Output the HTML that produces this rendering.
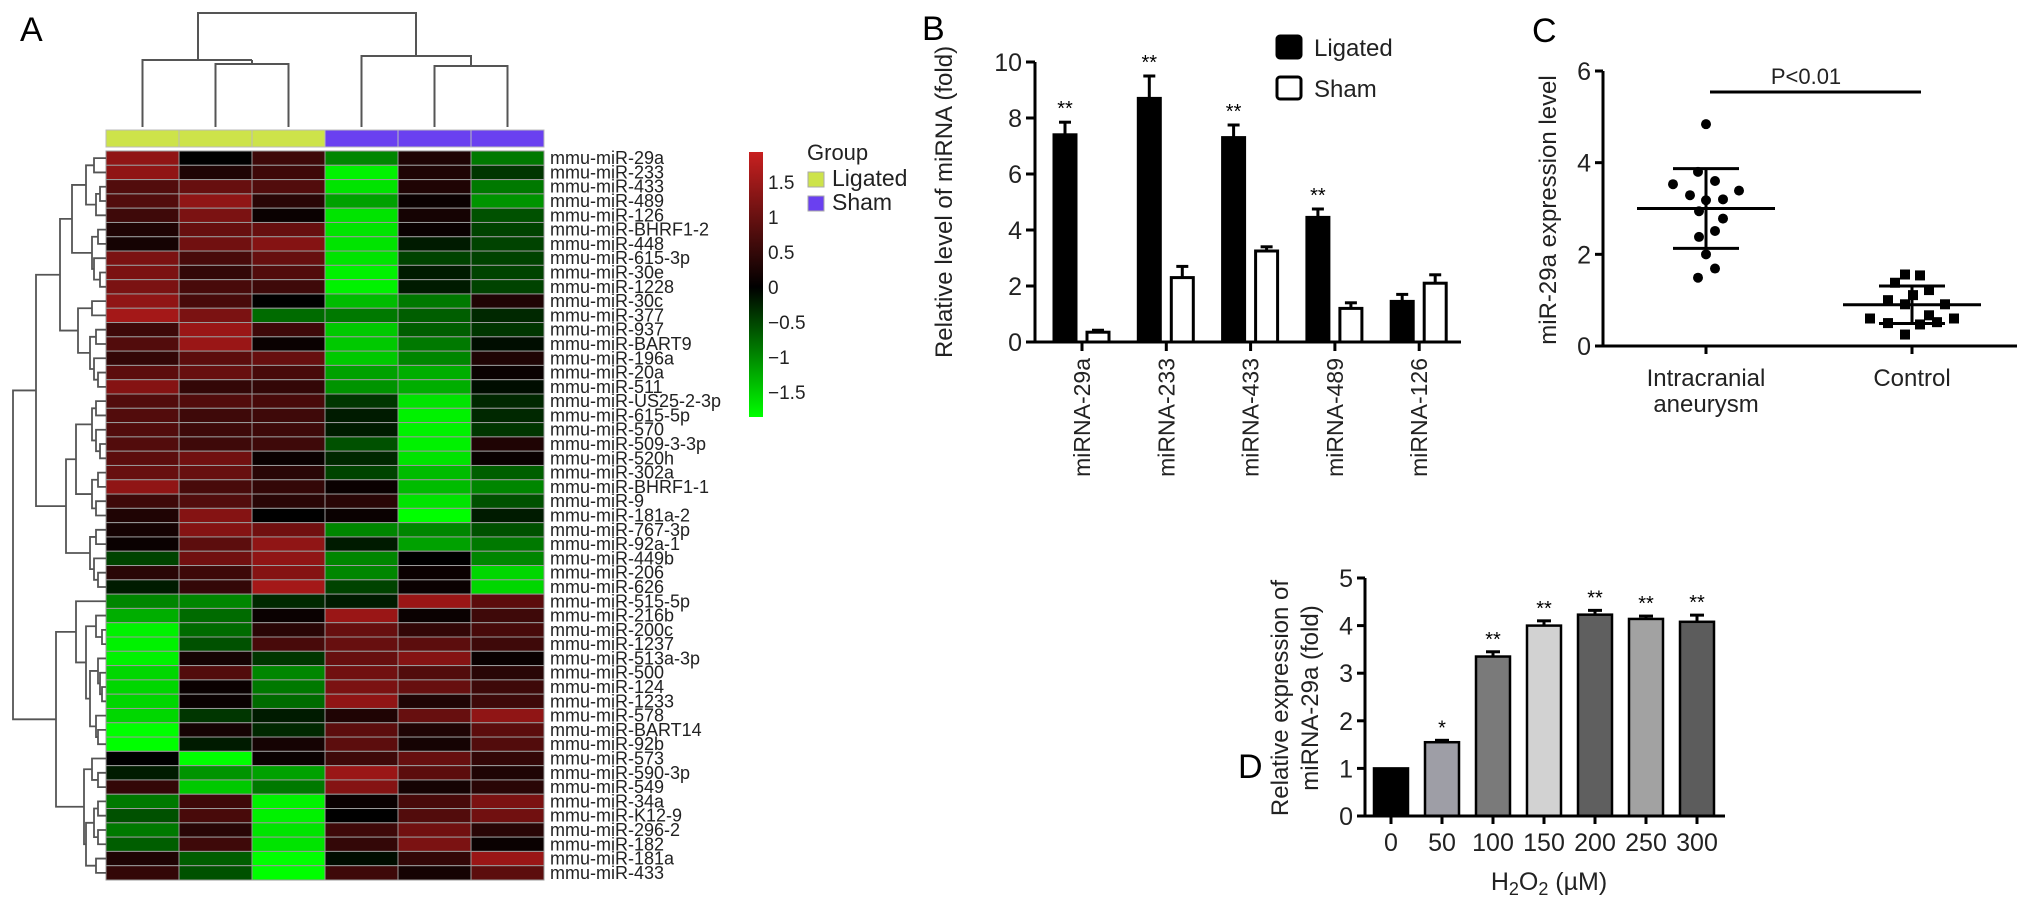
<!DOCTYPE html>
<html><head><meta charset="utf-8"><style>
html,body{margin:0;padding:0;background:#fff;}
svg{display:block;font-family:"Liberation Sans",Arial,sans-serif;}
</style></head><body>
<svg id="fig" width="2031" height="909" viewBox="0 0 2031 909" xmlns="http://www.w3.org/2000/svg">
<rect width="2031" height="909" fill="#fff"/>
<g id="A"></g>
<g id="B"></g>
<g id="C"></g>
<g id="D"></g>
</svg>
<script>
// ---------- Panel A data ----------
const heatRows = ["29a","233","433","489","126","BHRF1-2","448","615-3p","30e","1228","30c","377","937","BART9","196a","20a","511","US25-2-3p","615-5p","570","509-3-3p","520h","302a","BHRF1-1","9","181a-2","767-3p","92a-1","449b","206","626","515-5p","216b","200c","1237","513a-3p","500","124","1233","578","BART14","92b","573","590-3p","549","34a","K12-9","296-2","182","181a","433"];
const heatGroups = ["Ligated","Ligated","Ligated","Sham","Sham","Sham"];
const heatValues = [
[1.4,0,0.6,-1.0,0.3,-0.9],[1.4,0.3,0.6,-1.8,0.3,-0.4],[0.8,1.0,0.8,-1.7,0.3,-0.9],[0.8,1.4,0.4,-1.2,0.1,-1.1],
[0.6,1.2,0.1,-1.7,0.2,-0.6],[0.3,1.0,1.0,-1.7,0.1,-0.5],[0.2,1.1,1.3,-1.7,-0.2,-0.5],[1.2,0.7,1.0,-1.7,-0.5,-0.5],
[1.2,0.5,0.8,-1.8,-0.2,-0.5],[1.2,0.7,0.6,-1.8,-0.2,-0.5],[1.4,0.7,0.0,-1.4,-0.9,0.3],[1.6,1.2,-0.8,-0.9,-0.7,-0.3],
[0.6,1.5,0.6,-1.5,-0.7,-0.4],[0.8,1.5,0.1,-1.5,-0.9,-0.1],[0.5,0.9,1.0,-1.5,-1.0,0.3],[0.9,1.0,0.7,-1.2,-1.3,0.1],
[1.3,0.5,0.5,-1.1,-1.3,-0.1],[0.8,0.8,0.7,-0.4,-1.7,-0.3],[0.8,0.6,0.6,-0.2,-1.8,-0.3],[0.8,0.6,0.6,-0.2,-1.8,-0.4],
[0.8,0.6,0.6,-0.6,-1.8,0.3],[0.9,1.1,0.1,-0.3,-1.7,0.1],[1.0,1.0,0.4,-0.5,-1.4,-0.7],[1.4,0.7,0.5,0.1,-1.4,-1.0],
[0.6,0.8,0.4,0.4,-1.7,-0.6],[0.3,1.3,0.0,0.1,-1.9,-0.2],[0.2,1.3,1.1,-1.0,-1.0,-0.6],[0.1,0.9,1.4,-0.2,-1.2,-0.9],
[-0.5,1.1,1.4,-1.0,0.0,-1.0],[0.4,0.6,1.3,-1.0,0.1,-1.6],[-0.2,0.5,1.6,-0.5,0.1,-1.6],[-1.0,-1.0,-0.3,-0.2,1.5,0.9],
[-1.3,-0.8,0.1,1.5,0.1,0.6],[-1.8,-0.8,0.4,1.0,0.5,0.7],[-1.8,-0.6,0.7,1.0,0.9,0.6],[-1.8,0.2,-0.4,1.0,1.3,0.1],
[-1.6,0.8,-1.0,1.1,0.8,0.4],[-1.6,0.1,-0.9,1.2,1.0,0.6],[-1.6,0.1,-0.8,1.4,0.3,0.6],[-1.6,-0.4,-0.2,0.3,1.0,1.4],
[-1.9,0.2,-0.3,0.9,0.3,0.9],[-1.9,-0.2,0.2,0.9,0.2,0.8],[0.0,-1.9,0.1,0.6,1.0,0.5],[-0.2,-1.1,-1.2,1.5,0.9,0.3],
[0.5,-1.5,-0.9,1.3,0.2,0.4],[-0.9,0.6,-1.8,0.1,0.7,1.2],[-0.6,0.7,-1.8,0.0,0.8,1.1],[-0.9,0.4,-1.7,0.6,1.1,0.4],
[-0.7,0.6,-1.7,0.5,1.2,0.1],[0.3,-0.7,-1.9,-0.1,0.5,1.5],[0.5,-0.6,-1.9,0.6,0.2,0.9]];
const colorTicks = [1.5,1,0.5,0,-0.5,-1,-1.5];
// ---------- Panel B data ----------
const bCats = ["miRNA-29a","miRNA-233","miRNA-433","miRNA-489","miRNA-126"];
const bLigated = [7.4,8.7,7.3,4.45,1.45];
const bLigatedErr = [0.45,0.8,0.45,0.3,0.25];
const bSham = [0.35,2.3,3.25,1.2,2.1];
const bShamErr = [0.07,0.4,0.15,0.2,0.3];
const bStars = ["**","**","**","**",""];
const bTicks = [0,2,4,6,8,10];
// ---------- Panel C data ----------
const cCats = ["Intracranial","Control"];
const cIA = [4.84,3.80,3.53,3.60,3.39,3.29,3.18,3.20,2.94,2.78,2.38,2.51,2.00,1.69,1.49];
const cIAjit = [0,-8,-33,9,33,-16,0,17,-7,17,-7,9,0,9,-8];
const cCtl = [1.56,1.54,1.38,1.22,1.11,1.0,0.91,0.91,0.67,0.60,0.60,0.50,0.47,0.52,0.25];
const cCtlJit = [-7,8,-17,17,1,-24,-7,33,17,-42,42,-24,8,25,-7];
const cMean = [3.0,0.9];
const cSD = [0.87,0.41];
const cTicks = [0,2,4,6];
// ---------- Panel D data ----------
const dCats = ["0","50","100","150","200","250","300"];
const dVals = [1.0,1.55,3.35,4.0,4.23,4.14,4.08];
const dErr = [0,0.04,0.1,0.1,0.09,0.06,0.14];
const dStars = ["","*","**","**","**","**","**"];
const dFill = ["#000","#9e9ea6","#7a7a7a","#d2d2d2","#5f5f5f","#a2a2a2","#5c5c5c"];
const dTicks = [0,1,2,3,4,5];

const NS="http://www.w3.org/2000/svg";
function mk(parent,tag,attrs,text){const e=document.createElementNS(NS,tag);for(const k in attrs)e.setAttribute(k,attrs[k]);if(text!==undefined)e.textContent=text;parent.appendChild(e);return e;}

// ===== Panel A =====
(function(){
const g=document.getElementById('A');
const x0=106,cw=73,y0=151,rh=(880-151)/heatRows.length;
let t=mk(g,'text',{x:20,y:41,'font-size':34},'A');


function col(v){v=Math.max(-1.9,Math.min(1.9,v));if(v>=0){const f=v/1.9;return `rgb(${Math.round(195*f)},${Math.round(28*f)},${Math.round(28*f)})`;}const f=-v/1.9;return `rgb(0,${Math.round(255*f)},0)`;}
// group bar
heatGroups.forEach((gr,j)=>{const r=mk(g,'rect',{x:x0+j*cw,y:130,width:cw,height:17,fill:gr==="Ligated"?"#cde34a":"#6a40f0",stroke:"#bbb","stroke-width":1});

});
heatValues.forEach((row,i)=>{row.forEach((v,j)=>{const r=mk(g,'rect',{x:x0+j*cw,y:y0+i*rh,width:cw,height:rh,fill:col(v),stroke:"#9a9a9a","stroke-width":1});

});
const l=mk(g,'text',{x:550,y:y0+i*rh+rh/2+6,'font-size':18,fill:'#222'},'mmu-miR-'+heatRows[i]);

});
// column dendrogram
const cx=j=>x0+cw*j+cw/2;
const cd=mk(g,'path',{d:`M${cx(0)},127V60H252V60 M${cx(1)},127V64H${cx(2)}V127 M252,60V64 M198,60V13H416V56 M${cx(3)},127V56H471V66 M${cx(4)},127V66H${cx(5)}V127`,fill:'none',stroke:'#555','stroke-width':2});


// row dendrogram
const top=[70,[46,[34,[20,[12,0,1],[10,[6,2,3],4]],[14,[8,5,6],[12,7,[6,8,9]]]],[28,[14,10,11],[16,[10,12,13],[12,14,[8,15,16]]]]],[40,[30,[14,[10,17,18],[10,19,[6,20,21]]],[14,[8,22,23],[10,24,25]]],[16,[10,26,27],[12,28,[8,29,30]]]]];
const bot=[50,[30,31,[20,[10,32,[4,33,34]],[16,[8,35,[6,36,[4,37,38]]],[10,39,[8,40,41]]]]],[22,[14,42,[8,43,44]],[20,[12,[8,45,46],[8,47,48]],[10,49,50]]]];
const root=[93,top,bot];
let d="";
function walk(n){if(typeof n==='number')return {x:x0,y:y0+n*rh+rh/2};const a=walk(n[1]),b=walk(n[2]);const x=x0-n[0];d+=`M${a.x},${a.y}H${x}V${b.y}H${b.x}`;return {x:x,y:(a.y+b.y)/2};}
walk(root);
const rd=mk(g,'path',{d:d,fill:'none',stroke:'#555','stroke-width':1.8});


// color bar
const defs=mk(g,'defs',{});const lg=mk(defs,'linearGradient',{id:'cb',x1:0,y1:0,x2:0,y2:1});
mk(lg,'stop',{offset:'0',  'stop-color':'#c82020'});mk(lg,'stop',{offset:'0.51','stop-color':'#000'});mk(lg,'stop',{offset:'1','stop-color':'#00ff00'});
const cb=mk(g,'rect',{x:749,y:152,width:14,height:265,fill:'url(#cb)'});


colorTicks.forEach(v=>{const tl=mk(g,'text',{x:768,y:287-v*70+7,'font-size':19,fill:'#222'},v<0?'\u2212'+(-v):String(v));

});
let gt=mk(g,'text',{x:807,y:160,'font-size':22,fill:'#222'},'Group');


[["Ligated","#cde34a",172],["Sham","#6a40f0",196]].forEach(([n,c,y])=>{const s=mk(g,'rect',{x:808,y:y,width:16,height:15,fill:c,stroke:'#aaa'});


const tx=mk(g,'text',{x:832,y:y+14,'font-size':23,fill:'#222'},n);

});
})();

// ===== Panel B =====
(function(){
const g=document.getElementById('B');
const ax=1035,yb=342,yt=62,vmax=10;const ys=v=>yb-(yb-yt)*v/vmax;
const tick=i=>1082+84.3*i;
let t=mk(g,'text',{x:922,y:40,'font-size':34},'B');


bCats.forEach((c,i)=>{
 const xc=tick(i);
 [[bLigated[i],bLigatedErr[i],xc-17,'#000','ligated'],[bSham[i],bShamErr[i],xc+16,'#fff','sham']].forEach(([v,e,cxx,f,n])=>{
  const el=mk(g,'line',{x1:cxx,x2:cxx,y1:ys(v),y2:ys(v+e),stroke:'#000','stroke-width':3});
  
  
  mk(g,'line',{x1:cxx-6,x2:cxx+6,y1:ys(v+e),y2:ys(v+e),stroke:'#000','stroke-width':3});
  const r=mk(g,'rect',{x:cxx-11,y:ys(v),width:22,height:yb-ys(v),fill:f,stroke:'#000','stroke-width':3});
  
  
 });
 if(bStars[i]){const s=mk(g,'text',{x:xc-17,y:ys(bLigated[i]+bLigatedErr[i])-7,'font-size':20,'text-anchor':'middle'},bStars[i]);
 
 }
 mk(g,'line',{x1:xc,x2:xc,y1:yb,y2:yb+9,stroke:'#000','stroke-width':3});
 const l=mk(g,'text',{transform:`translate(${xc+8},${yb+16}) rotate(-90)`,'font-size':23,'text-anchor':'end',fill:'#222'},c);
 
 
});
const axl=mk(g,'path',{d:`M${ax},${yt}V${yb}H1461`,fill:'none',stroke:'#000','stroke-width':3});


bTicks.forEach(v=>{mk(g,'line',{x1:ax-9,x2:ax,y1:ys(v),y2:ys(v),stroke:'#000','stroke-width':3});
const tl=mk(g,'text',{x:ax-13,y:ys(v)+9,'font-size':25,'text-anchor':'end',fill:'#222'},String(v));

});
const yt2=mk(g,'text',{transform:'translate(952,202) rotate(-90)','font-size':24,'text-anchor':'middle',fill:'#222'},'Relative level of miRNA (fold)');


[["Ligated","#000",36],["Sham","#fff",77]].forEach(([n,f,y])=>{const s=mk(g,'rect',{x:1277,y:y,width:24,height:22,rx:3,fill:f,stroke:'#000','stroke-width':3});


const tx=mk(g,'text',{x:1314,y:y+20,'font-size':24,fill:'#222'},n);

});
})();

// ===== Panel C =====
(function(){
const g=document.getElementById('C');
const ax=1603,yb=346,yt=71,vmax=6;const ys=v=>yb-(yb-yt)*v/vmax;
const tx=[1706,1912];
let t=mk(g,'text',{x:1532,y:42,'font-size':34},'C');


const axl=mk(g,'path',{d:`M${ax},${yt}V${yb}H2017`,fill:'none',stroke:'#000','stroke-width':3});


cTicks.forEach(v=>{mk(g,'line',{x1:ax-8,x2:ax,y1:ys(v),y2:ys(v),stroke:'#000','stroke-width':3});
const tl=mk(g,'text',{x:ax-12,y:ys(v)+9,'font-size':25,'text-anchor':'end',fill:'#222'},String(v));

});
tx.forEach(x=>mk(g,'line',{x1:x,x2:x,y1:yb,y2:yb+8,stroke:'#000','stroke-width':3}));
cIA.forEach((v,i)=>{const c=mk(g,'circle',{cx:tx[0]+cIAjit[i],cy:ys(v),r:5,fill:'#000'});

});
cCtl.forEach((v,i)=>{const c=mk(g,'rect',{x:tx[1]+cCtlJit[i]-5,y:ys(v)-5,width:10,height:10,fill:'#000'});

});
cMean.forEach((m,i)=>{const x=tx[i];
const ml=mk(g,'line',{x1:x-69,x2:x+69,y1:ys(m),y2:ys(m),stroke:'#000','stroke-width':3});


mk(g,'line',{x1:x,x2:x,y1:ys(m-cSD[i]),y2:ys(m+cSD[i]),stroke:'#000','stroke-width':3});
mk(g,'line',{x1:x-33,x2:x+33,y1:ys(m-cSD[i]),y2:ys(m-cSD[i]),stroke:'#000','stroke-width':3});
mk(g,'line',{x1:x-33,x2:x+33,y1:ys(m+cSD[i]),y2:ys(m+cSD[i]),stroke:'#000','stroke-width':3});});
const pb=mk(g,'line',{x1:1710,x2:1921,y1:92,y2:92,stroke:'#000','stroke-width':3});


const pt=mk(g,'text',{x:1806,y:84,'font-size':22,'text-anchor':'middle',fill:'#222'},'P<0.01');


[["Intracranial",tx[0],386],["aneurysm",tx[0],412],["Control",tx[1],386]].forEach(([s,x,y])=>{const l=mk(g,'text',{x:x,y:y,'font-size':24,'text-anchor':'middle',fill:'#222'},s);

});
const yl=mk(g,'text',{transform:'translate(1556,210) rotate(-90)','font-size':24,'text-anchor':'middle',fill:'#222'},'miR-29a expression level');


})();

// ===== Panel D =====
(function(){
const g=document.getElementById('D');
const ax=1365,yb=816,yt=578,vmax=5;const ys=v=>yb-(yb-yt)*v/vmax;
const tick=i=>1391+51*i;
let t=mk(g,'text',{x:1238,y:778,'font-size':34},'D');


dVals.forEach((v,i)=>{const xc=tick(i);
 if(dErr[i]>0){mk(g,'line',{x1:xc,x2:xc,y1:ys(v),y2:ys(v+dErr[i]),stroke:'#000','stroke-width':3});
 mk(g,'line',{x1:xc-7,x2:xc+7,y1:ys(v+dErr[i]),y2:ys(v+dErr[i]),stroke:'#000','stroke-width':3});}
 const r=mk(g,'rect',{x:xc-17,y:ys(v),width:34,height:yb-ys(v),fill:dFill[i],stroke:'#000','stroke-width':2.5});
 
 
 if(dStars[i]){const s=mk(g,'text',{x:xc,y:ys(v+dErr[i])-6,'font-size':20,'text-anchor':'middle'},dStars[i]);
 
 }
 mk(g,'line',{x1:xc,x2:xc,y1:yb,y2:yb+8,stroke:'#000','stroke-width':3});
 const l=mk(g,'text',{x:xc,y:851,'font-size':25,'text-anchor':'middle',fill:'#222'},dCats[i]);
 
 
});
const axl=mk(g,'path',{d:`M${ax},${yt}V${yb}H1725`,fill:'none',stroke:'#000','stroke-width':3});


dTicks.forEach(v=>{mk(g,'line',{x1:ax-8,x2:ax,y1:ys(v),y2:ys(v),stroke:'#000','stroke-width':3});
const tl=mk(g,'text',{x:ax-12,y:ys(v)+9,'font-size':25,'text-anchor':'end',fill:'#222'},String(v));

});
const yl=mk(g,'text',{transform:'translate(1288,698) rotate(-90)','font-size':24,'text-anchor':'middle',fill:'#222'});


mk(yl,'tspan',{x:0,dy:0},'Relative expression of');
mk(yl,'tspan',{x:0,dy:30},'miRNA-29a (fold)');
const xt=mk(g,'text',{x:1549,y:890,'font-size':25,'text-anchor':'middle',fill:'#222'});


xt.appendChild(document.createTextNode('H'));
mk(xt,'tspan',{'font-size':18,dy:5},'2');
mk(xt,'tspan',{dy:-5},'O');
mk(xt,'tspan',{'font-size':18,dy:5},'2');
mk(xt,'tspan',{dy:-5},' (\u00b5M)');
})();
</script>
</body></html>
